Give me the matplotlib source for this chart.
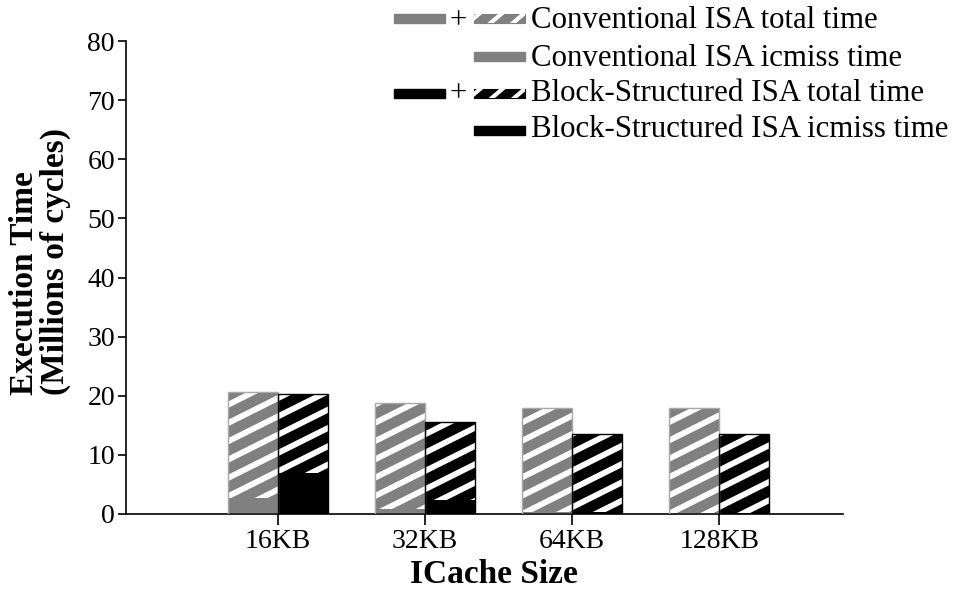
import numpy as np
import matplotlib
matplotlib.use("Agg")
import matplotlib.pyplot as plt
from matplotlib.patches import Rectangle
from matplotlib.lines import Line2D
from matplotlib.transforms import IdentityTransform

plt.rcParams['font.family'] = ['Liberation Serif', 'DejaVu Serif']
plt.rcParams['font.size'] = 20

# execution time in millions of cycles
cache_sizes = ['16KB', '32KB', '64KB', '128KB']
conv_total = [20.6, 18.7, 18.0, 18.0]
conv_icmiss = [2.7, 0.8, 0.3, 0.2]
block_total = [20.3, 15.5, 13.5, 13.5]
block_icmiss = [6.9, 2.4, 0.3, 0.2]

GRAY = '#808080'


def add_stripes(container, patch, slope=0.5, period=18.3, lw=4.2):
    """White diagonal stripes over a patch, clipped to it (pixel space)."""
    fig = patch.figure
    fig.canvas.draw()
    bb = patch.get_window_extent()
    x0, x1 = bb.x0 - 6, bb.x1 + 6
    c_lo = bb.y0 - slope * x1
    c_hi = bb.y1 - slope * x0
    k0 = int(np.floor(c_lo / period)) - 1
    k1 = int(np.ceil(c_hi / period)) + 1
    for k in range(k0, k1 + 1):
        c = k * period
        ln = Line2D([x0, x1], [slope * x0 + c, slope * x1 + c],
                    color='white', lw=lw, solid_capstyle='butt',
                    transform=IdentityTransform(), zorder=patch.get_zorder() + 0.1)
        container.add_artist(ln)
        # set after adding, otherwise the axes patch replaces the clip
        ln.set_clip_path(patch)


fig = plt.figure(figsize=(9.56, 5.92), dpi=100)
ax = fig.add_axes([0.1318, 0.1318, 0.75, 0.7989])

x = np.arange(1, len(cache_sizes) + 1)
w = 0.34

hatched = []
# conventional ISA bars (left of each tick)
for xi, tot, ic in zip(x, conv_total, conv_icmiss):
    ax.bar(xi - w / 2, ic, width=w, color=GRAY, lw=0, zorder=2)
    b = ax.bar(xi - w / 2, tot - ic, bottom=ic, width=w, color=GRAY,
               edgecolor='none', lw=0, zorder=2)
    hatched.append(b.patches[0])
    ax.add_patch(Rectangle((xi - w, 0), w, tot, fill=False, edgecolor='#a8a8a8',
                           lw=1, zorder=3))
# block-structured ISA bars (right of each tick)
for xi, tot, ic in zip(x, block_total, block_icmiss):
    ax.bar(xi + w / 2, ic, width=w, color='black', lw=0, zorder=2)
    b = ax.bar(xi + w / 2, tot - ic, bottom=ic, width=w, color='black',
               edgecolor='none', lw=0, zorder=2)
    hatched.append(b.patches[0])
    ax.add_patch(Rectangle((xi, 0), w, tot, fill=False, edgecolor='black',
                           lw=1, zorder=3))

ax.set_xlim(-0.03, 4.84)
ax.set_ylim(0, 80)
ax.set_yticks(np.arange(0, 81, 10))
ax.set_xticks(x)
ax.set_xticklabels(cache_sizes)
ax.spines['top'].set_visible(False)
ax.spines['right'].set_visible(False)
for s in ('left', 'bottom'):
    ax.spines[s].set_linewidth(1.2)
ax.tick_params(axis='y', direction='out', length=6, width=1.2, pad=2)
ax.tick_params(axis='x', direction='out', length=8, width=1.2, pad=3)

W, H = 956, 592
fig.text(494 / W, 9 / H, 'ICache Size', ha='center', va='baseline',
         fontweight='bold', fontsize=24)
fig.text(0.042, 0.558, 'Execution Time\n(Millions of cycles)', rotation=90,
         ha='center', va='center', multialignment='left', fontweight='bold',
         fontsize=24, linespacing=1.0)

for p in hatched:
    add_stripes(ax, p)

# legend drawn in pixel coordinates measured from the top
rows = [
    ('Conventional ISA total time', GRAY, True),
    ('Conventional ISA icmiss time', GRAY, False),
    ('Block-Structured ISA total time', 'black', True),
    ('Block-Structured ISA icmiss time', 'black', False),
]
patch_y = [18.5, 56.5, 93, 130.5]
base_y = [28.3, 65.5, 101, 137]
ph = 9
for (label, col, is_total), yc, yt in zip(rows, patch_y, base_y):
    yb = H - yc - ph / 2
    if is_total:
        r = Rectangle((394, yb), 51, ph, color=col, transform=IdentityTransform())
        fig.add_artist(r)
        fig.text(458.5 / W, (H - yt) / H, '+', ha='center', va='baseline',
                 fontsize=22)
        hp = Rectangle((474, yb), 51, ph, facecolor=col, edgecolor=col, lw=0.8,
                       transform=IdentityTransform())
        fig.add_artist(hp)
        add_stripes(fig, hp, slope=0.85, period=19, lw=3.0)
    else:
        r = Rectangle((474, yb), 51, ph, color=col, transform=IdentityTransform())
        fig.add_artist(r)
    fig.text(531 / W, (H - yt) / H, label, ha='left', va='baseline', fontsize=22.2)

fig.savefig('out.png', dpi=100)
